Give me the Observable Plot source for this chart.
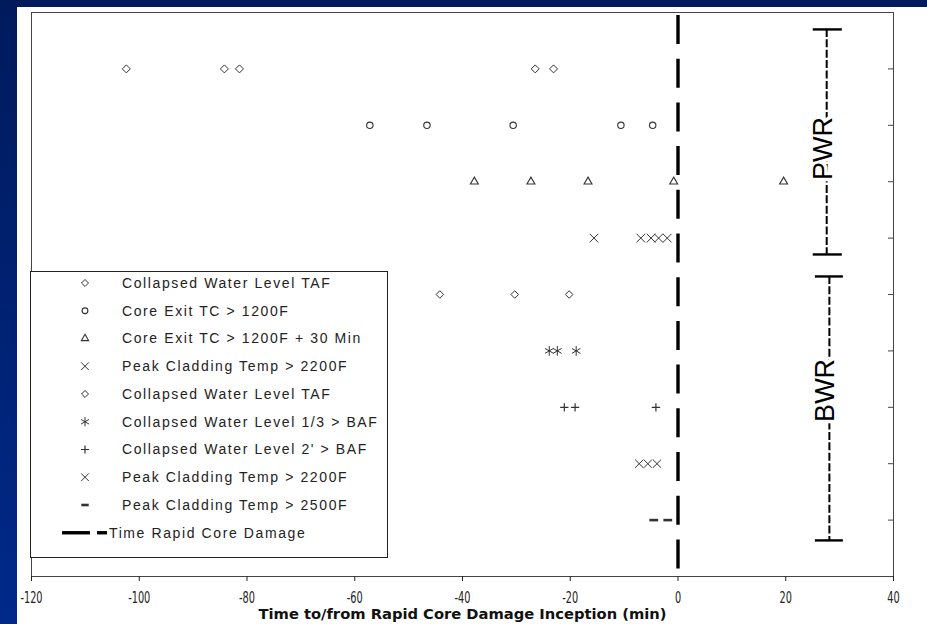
<!DOCTYPE html>
<html><head><meta charset="utf-8">
<script src="https://cdn.jsdelivr.net/npm/d3@7"></script>
<script src="https://cdn.jsdelivr.net/npm/@observablehq/plot@0.6"></script>
<style>
html,body{margin:0;padding:0;}
body{width:927px;height:624px;overflow:hidden;position:relative;background:linear-gradient(#001a5c,#00298a);font-family:"Liberation Sans",Arial,sans-serif;}
#panel{position:absolute;left:17px;top:7px;width:910px;height:617px;background:#fff;}
#panel > svg.chart{position:absolute;left:0;top:0;}
</style></head><body><div id="panel"></div>
<script>
// ---- data (minutes relative to rapid core damage inception) ----
const xTicks = [-120, -100, -80, -60, -40, -20, 0, 20, 40];
const rowTicks = [1, 2, 3, 4, 5, 6, 7, 8, 9];

const pwrWaterTAF   = [-102.4, -84.2, -81.4, -26.5, -23.1];   // row 9
const pwrCoreExit   = [-57.2, -46.6, -30.6, -10.6, -4.7];     // row 8
const pwrCoreExit30 = [-37.8, -27.3, -16.7, -0.8, 19.6];      // row 7
const pwrPeak2200   = [-15.6, -6.9, -5.0, -3.6, -2.0];        // row 6
const bwrWaterTAF   = [-44.2, -30.3, -20.2];                  // row 5
const bwrWater13    = [-23.9, -22.4, -18.9];                  // row 4
const bwrWater2ft   = [-21.1, -19.1, -4.1];                   // row 3
const bwrPeak2200   = [-7.2, -5.6, -3.9];                     // row 2
const bwrPeak2500   = [-4.5, -1.9];                           // row 1

const legendLabels = [
  "Collapsed Water Level TAF",
  "Core Exit TC > 1200F",
  "Core Exit TC > 1200F + 30 Min",
  "Peak Cladding Temp > 2200F",
  "Collapsed Water Level TAF",
  "Collapsed Water Level 1/3 > BAF",
  "Collapsed Water Level 2' > BAF",
  "Peak Cladding Temp > 2200F",
  "Peak Cladding Temp > 2500F",
  "Time Rapid Core Damage"
];

const brackets = [
  {label: "PWR", x: 27.6, xText: 27.0, y1: 9.70, y2: 5.71, yText: 7.59, c1: 25.1, c2: 30.5},
  {label: "BWR", x: 28.1, xText: 27.4, y1: 5.32, y2: 0.64, yText: 3.30, c1: 25.5, c2: 30.7}
];
const damageTime = [0];
const axisTitle = "Time to/from Rapid Core Damage Inception (min)";

// ---- symbols ----
const symDash = {draw(ctx, size) { const w = Math.sqrt(size) * 0.62; ctx.moveTo(-w, 0); ctx.lineTo(w, 0); }};
const seriesDefs = [
  {xs: pwrWaterTAF,   row: 9, sym: d3.symbolDiamond2,  r: 3.6, sw: 1},
  {xs: pwrCoreExit,   row: 8, sym: d3.symbolCircle,    r: 3.2, sw: 1.1},
  {xs: pwrCoreExit30, row: 7, sym: d3.symbolTriangle2, r: 3.8, sw: 1.1},
  {xs: pwrPeak2200,   row: 6, sym: d3.symbolTimes,     r: 4.0, sw: 1},
  {xs: bwrWaterTAF,   row: 5, sym: d3.symbolDiamond2,  r: 3.4, sw: 1},
  {xs: bwrWater13,    row: 4, sym: d3.symbolAsterisk,  r: 4.6, sw: 1},
  {xs: bwrWater2ft,   row: 3, sym: d3.symbolPlus,      r: 2.8, sw: 1.2},
  {xs: bwrPeak2200,   row: 2, sym: d3.symbolTimes,     r: 3.8, sw: 1},
  {xs: bwrPeak2500,   row: 1, sym: symDash,            r: 4.0, sw: 2.6}
];

const W = 910, H = 617, mL = 14, mT = 5, mR = 34, mB = 48;
const innerW = W - mL - mR;
const ink = "#222";
const narrow = "'Liberation Sans Narrow','Arial Narrow','DejaVu Sans Condensed',sans-serif";

const marks = [
  Plot.ruleX(damageTime, {stroke: "#000", strokeWidth: 3.4, strokeDasharray: "29,14.7", strokeDashoffset: -3}),
  Plot.tickY(rowTicks, {y: d => d, insetLeft: innerW - 5, stroke: "#444"}),
  Plot.frame({stroke: "#444"}),
  Plot.axisX({ticks: xTicks, tickSize: 5, tickPadding: 10, tickFormat: d => String(d), fontSize: 15.5,
              fontFamily: narrow, color: ink, label: null}),
  Plot.text([axisTitle], {frameAnchor: "bottom", dy: 42, fontWeight: "bold", fontSize: 14,
              fontFamily: narrow, fill: "#111"}),
  // brackets
  Plot.ruleX(brackets, {x: "x", y1: "y1", y2: "y2", stroke: "#000", strokeWidth: 2, strokeDasharray: "8,2.4"}),
  Plot.ruleY(brackets, {y: "y1", x1: "c1", x2: "c2", stroke: "#000", strokeWidth: 2.4}),
  Plot.ruleY(brackets, {y: "y2", x1: "c1", x2: "c2", stroke: "#000", strokeWidth: 2.4}),
  Plot.text(brackets, {x: "xText", y: "yText", text: "label", rotate: -90, fontSize: 27, fill: "#000",
              stroke: "#fff", strokeWidth: 7, fontFamily: "'Liberation Sans',Arial,sans-serif"})
];
for (const s of seriesDefs) {
  marks.push(Plot.dot(s.xs, {x: d => d, y: () => s.row, symbol: s.sym, r: s.r, stroke: "#333", strokeWidth: s.sw, fill: "none"}));
}

const chart = Plot.plot({
  width: W, height: H,
  marginLeft: mL, marginTop: mT, marginRight: mR, marginBottom: mB,
  style: {background: "transparent", overflow: "visible"},
  x: {domain: [-120, 40], axis: null},
  y: {domain: [0, 10], axis: null},
  marks
});
chart.classList.add("chart");
document.getElementById("panel").appendChild(chart);
const tickLabels = new Set(xTicks.map(String));
d3.select(chart).selectAll("text").each(function() {
  const t = this.textContent;
  if (t === axisTitle) {
    this.setAttribute("textLength", 408);
    this.setAttribute("lengthAdjust", "spacingAndGlyphs");
  } else if (tickLabels.has(t)) {
    const len = this.getComputedTextLength();
    if (len > 0) {
      this.setAttribute("textLength", (len * 0.7).toFixed(1));
      this.setAttribute("lengthAdjust", "spacingAndGlyphs");
    }
  }
});

// ---- legend ----
const LW = 357, LH = 286, rowH = 27.75, row0 = 12;
const lg = d3.select("#panel").append("svg").attr("id", "legend").attr("width", LW + 1).attr("height", LH + 1)
  .style("position", "absolute").style("left", "13px").style("top", "264px");
lg.append("rect").attr("x", 0.5).attr("y", 0.5).attr("width", LW).attr("height", LH)
  .attr("fill", "#fff").attr("stroke", "#222").attr("stroke-width", 1);
const legendSym = [
  [d3.symbolDiamond2, 31, 1], [d3.symbolCircle, 26, 1.1], [d3.symbolTriangle2, 38, 1.1], [d3.symbolTimes, 40, 1],
  [d3.symbolDiamond2, 31, 1], [d3.symbolAsterisk, 58, 1], [d3.symbolPlus, 24, 1.2], [d3.symbolTimes, 40, 1],
  [symDash, 36, 2.6]
];
legendLabels.forEach((lab, i) => {
  const cy = row0 + i * rowH;
  if (i < legendSym.length) {
    const [t, sz, sw] = legendSym[i];
    lg.append("path").attr("d", d3.symbol(t, sz)()).attr("transform", `translate(55,${cy})`)
      .attr("fill", "none").attr("stroke", "#333").attr("stroke-width", sw);
    lg.append("text").attr("x", 92).attr("y", cy).attr("dy", "0.35em").attr("font-size", 14)
      .attr("letter-spacing", 1.6).attr("fill", ink).attr("font-family", "'Liberation Sans',Arial,sans-serif").text(lab);
  } else {
    lg.append("line").attr("x1", 32).attr("x2", 60).attr("y1", cy).attr("y2", cy).attr("stroke", "#000").attr("stroke-width", 3.4);
    lg.append("line").attr("x1", 67).attr("x2", 77).attr("y1", cy).attr("y2", cy).attr("stroke", "#000").attr("stroke-width", 3.4);
    lg.append("text").attr("x", 79).attr("y", cy).attr("dy", "0.35em").attr("font-size", 14)
      .attr("letter-spacing", 1.6).attr("fill", ink).attr("font-family", "'Liberation Sans',Arial,sans-serif").text(lab);
  }
});
</script></body></html>
